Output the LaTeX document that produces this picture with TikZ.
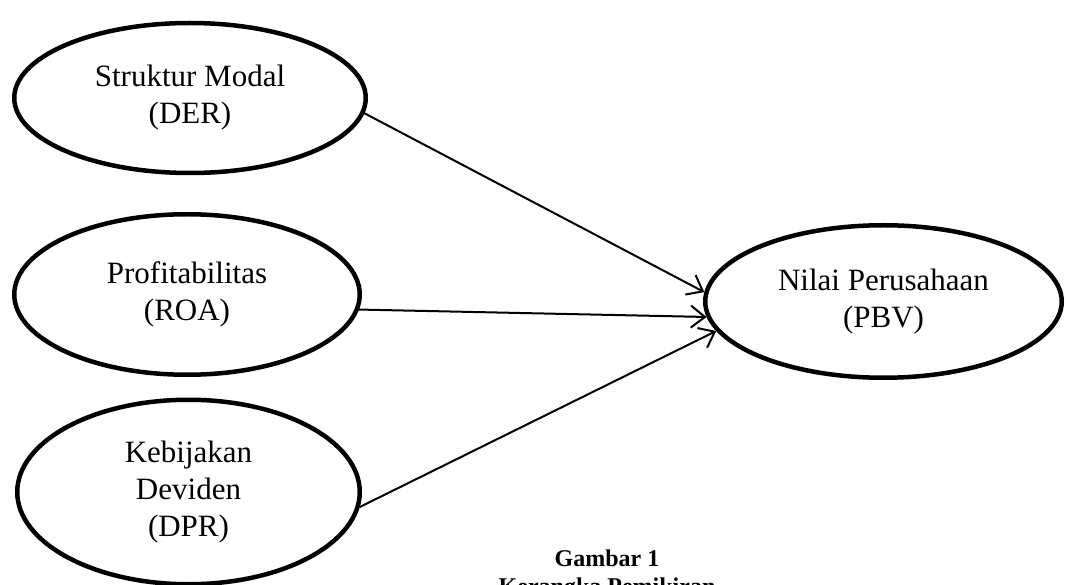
\documentclass[tikz,border=0pt]{standalone}
\usepackage{fontspec}
\setmainfont{Liberation Serif}
\usetikzlibrary{shapes.geometric,arrows.meta}

\begin{document}
\begin{tikzpicture}[x=1pt,y=-1pt,
  var/.style={ellipse,draw,line width=4.5pt,inner sep=0pt,align=center,
    font=\fontsize{31}{37}\selectfont},
  caption/.style={font=\fontsize{24}{28}\selectfont\bfseries}]
  \clip (0,0) rectangle (1066,585);
  \node[var,minimum width=351.5pt,minimum height=150pt] (der) at (190,98) {Struktur Modal\\(DER)};
  \node[var,minimum width=345.5pt,minimum height=160.5pt] (roa) at (187,294.5) {Profitabilitas\\(ROA)};
  \node[var,minimum width=342.5pt,minimum height=184.5pt] (dpr) at (188.5,492) {Kebijakan\\Deviden\\(DPR)};
  \node[var,minimum width=356.5pt,minimum height=152.5pt] (pbv) at (883.5,301.5) {Nilai Perusahaan\\(PBV)};
  \node[caption,anchor=base] (gbr) at (607,566) {Gambar 1};
  \node[caption,anchor=base] (judul) at (607,594) {Kerangka Pemikiran};
  \path[-{Straight Barb[length=14pt,width=22pt]},line width=2pt]
    (der.-5) edge (pbv.177)
    (roa.-5) edge (pbv.185)
    (dpr.-5) edge (pbv.190);
\end{tikzpicture}
\end{document}
